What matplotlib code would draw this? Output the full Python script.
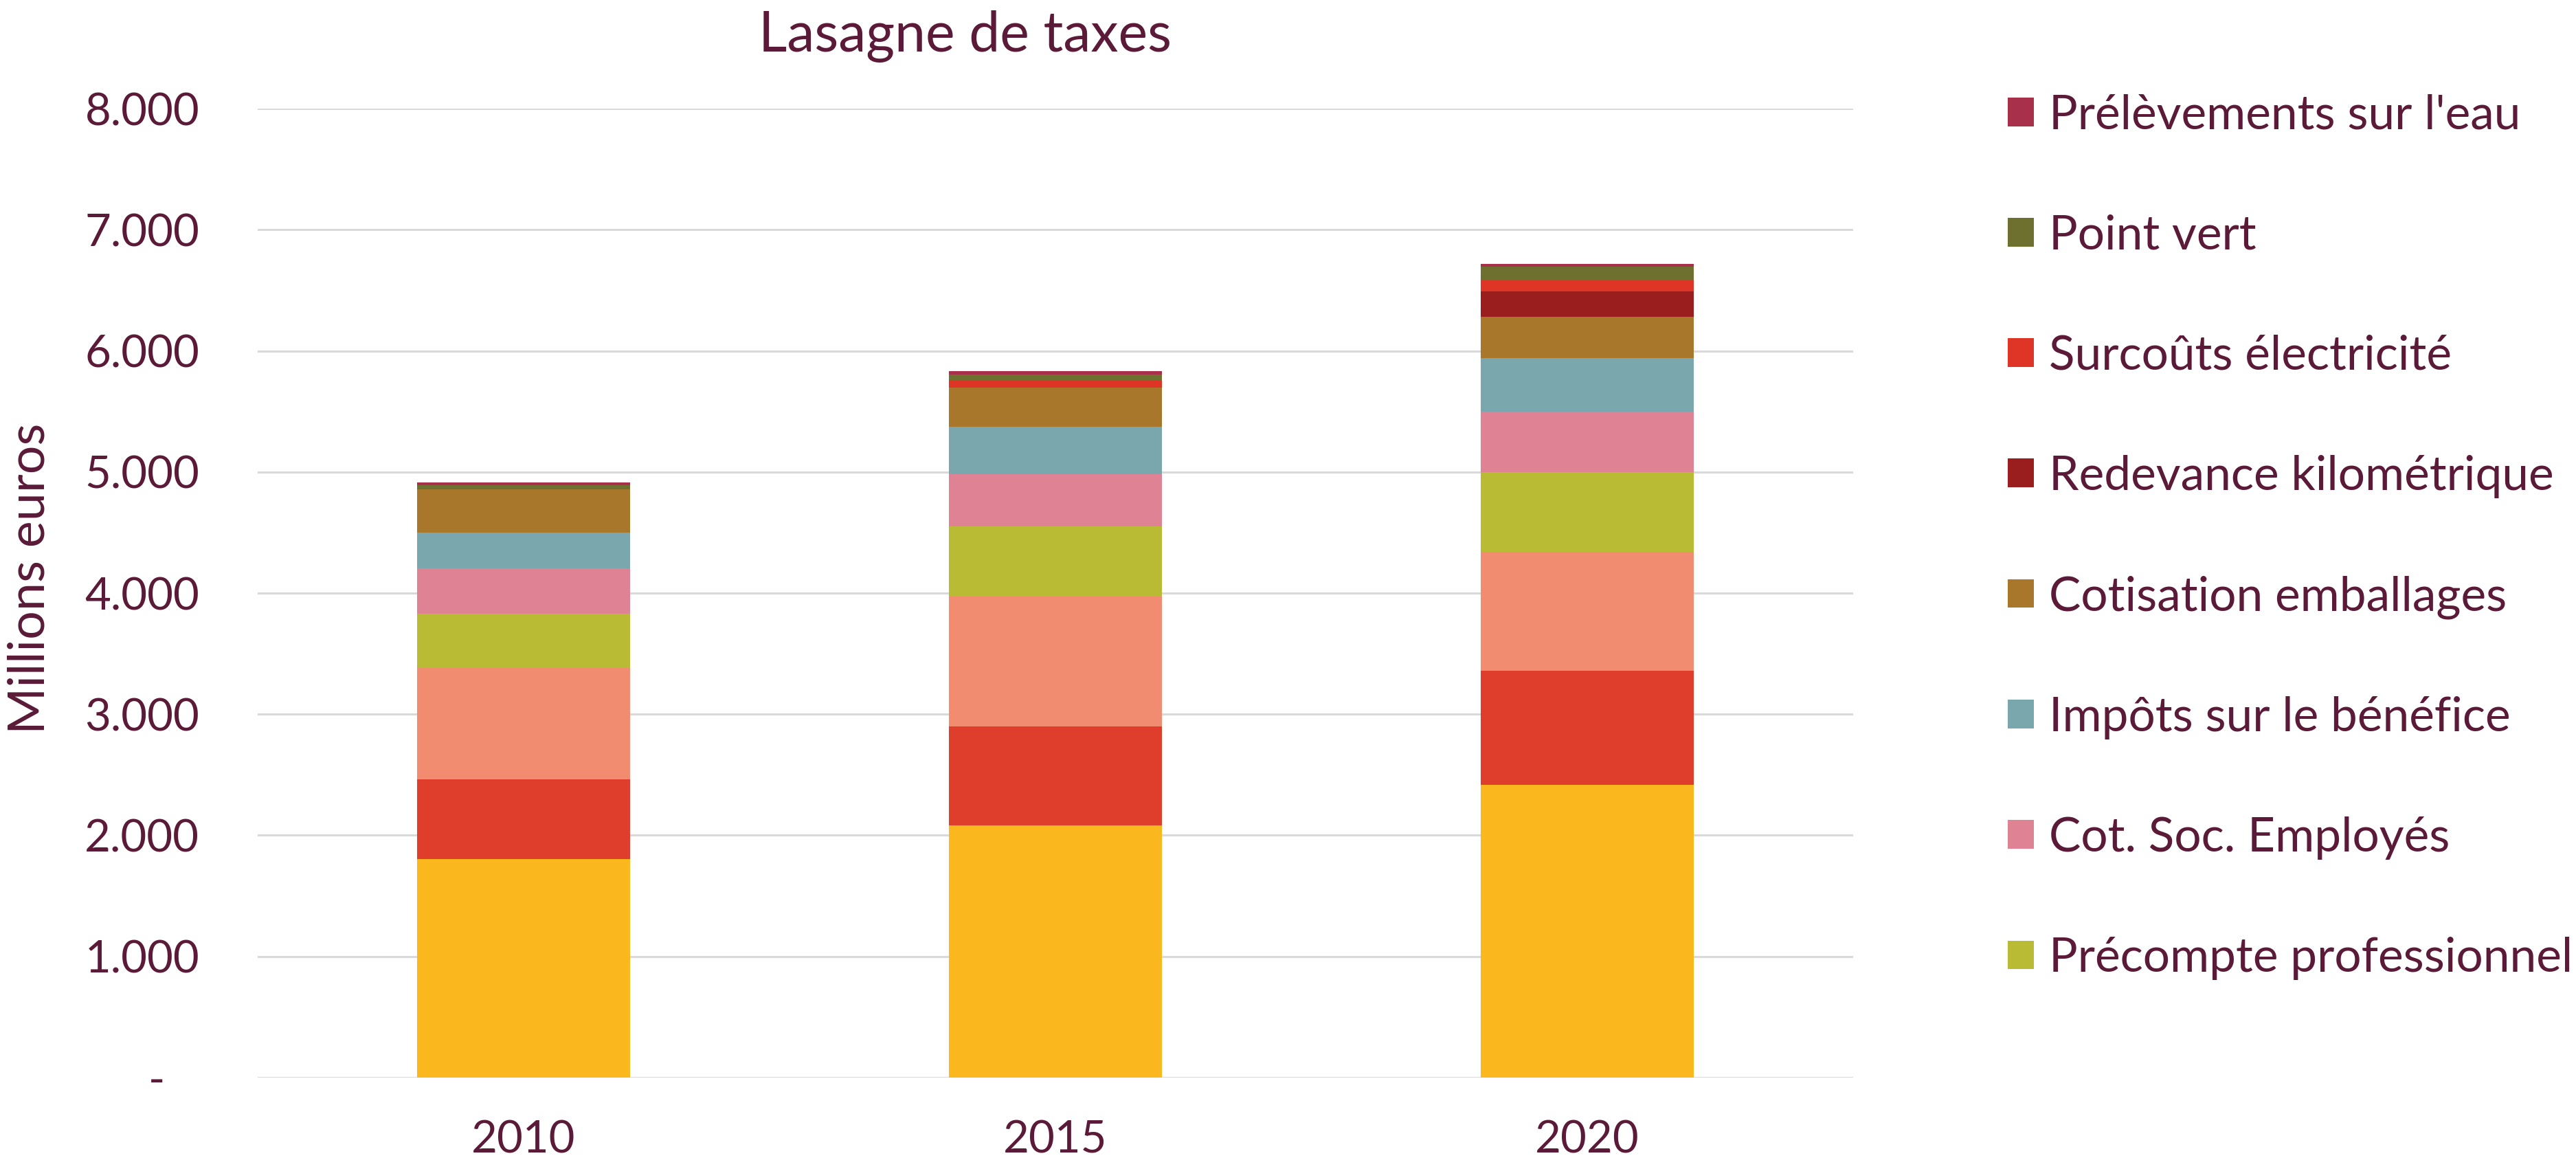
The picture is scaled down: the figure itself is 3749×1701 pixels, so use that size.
import matplotlib
matplotlib.use("Agg")
import matplotlib.pyplot as plt
from matplotlib.patches import Patch
from matplotlib.ticker import FixedLocator, FixedFormatter
import numpy as np

plt.rcParams['font.family'] = ['Lato', 'DejaVu Sans']

years = ["2010", "2015", "2020"]

# series, bottom to top
series_names = [
    "Série 1",
    "Série 2",
    "Série 3",
    "Précompte professionnel",
    "Cot. Soc. Employés",
    "Impôts sur le bénéfice",
    "Cotisation emballages",
    "Redevance kilométrique",
    "Surcoûts électricité",
    "Point vert",
    "Prélèvements sur l'eau",
]
serie_1 = [1803, 2081, 2416]
serie_2 = [658, 820, 941]
serie_3 = [919, 1072, 981]
precompte = [448, 577, 659]
cot_soc = [375, 433, 503]
impots_benefice = [297, 390, 438]
cotisation_emballages = [355, 324, 341]
redevance_km = [0, 0, 211]
surcouts_elec = [0, 57, 98]
point_vert = [38, 52, 107]
prelevements_eau = [22, 26, 23]

values = [serie_1, serie_2, serie_3, precompte, cot_soc, impots_benefice,
          cotisation_emballages, redevance_km, surcouts_elec, point_vert,
          prelevements_eau]
colors = ["#FBB81E", "#E03E2D", "#F28C70", "#B9BB34", "#DE8294", "#7AA7AE",
          "#A8772B", "#9A1E1E", "#DE3527", "#6E7030", "#A8304A"]
legend_count = 8  # only the top 8 series appear in the legend

yticks = [0, 1000, 2000, 3000, 4000, 5000, 6000, 7000, 8000]
ytick_labels = ["-   ", "1.000", "2.000", "3.000", "4.000", "5.000", "6.000", "7.000", "8.000"]

text_color = "#5A1A38"

fig = plt.figure(figsize=(37.49, 17.01), dpi=100)
ax = fig.add_axes([0.100, 0.0782, 0.6194, 0.8289])

x = np.arange(len(years))
bottom = np.zeros(len(years))
for name, vals, col in zip(series_names, values, colors):
    ax.bar(x, vals, width=0.4, bottom=bottom, color=col, label=name, zorder=3, linewidth=0)
    bottom += np.array(vals)

ax.set_xlim(-0.5, 2.5)
ax.set_ylim(0, 8000)
ax.yaxis.set_major_locator(FixedLocator(yticks))
ax.yaxis.set_major_formatter(FixedFormatter(ytick_labels))
ax.set_xticks(x)
ax.set_xticklabels(years)
ax.tick_params(axis='both', length=0, labelsize=47, labelcolor=text_color)
ax.tick_params(axis='y', pad=61)
ax.tick_params(axis='x', pad=44)
ax.grid(axis='y', color="#D9D9D9", linewidth=2.2, zorder=0)
ax.set_axisbelow(True)
for s in ax.spines.values():
    s.set_visible(False)

ax.set_ylabel("Millions euros", fontsize=53, color=text_color)
ax.yaxis.set_label_coords(-0.128, 0.515)

fig.text(0.3745, 0.969, "Lasagne de taxes", fontsize=58, color=text_color,
         ha='center', va='center')

leg_handles = [Patch(facecolor=c, edgecolor='none') for c in colors[::-1][:legend_count]]
leg_labels = series_names[::-1][:legend_count]
fig.legend(leg_handles, leg_labels, loc='upper left', bbox_to_anchor=(0.7794, 0.9198),
           frameon=False, fontsize=50, labelcolor=text_color,
           handlelength=0.55, handleheight=0.55, handletextpad=0.31,
           labelspacing=1.615, borderpad=0, borderaxespad=0)

fig.savefig("out.png", dpi=100)
